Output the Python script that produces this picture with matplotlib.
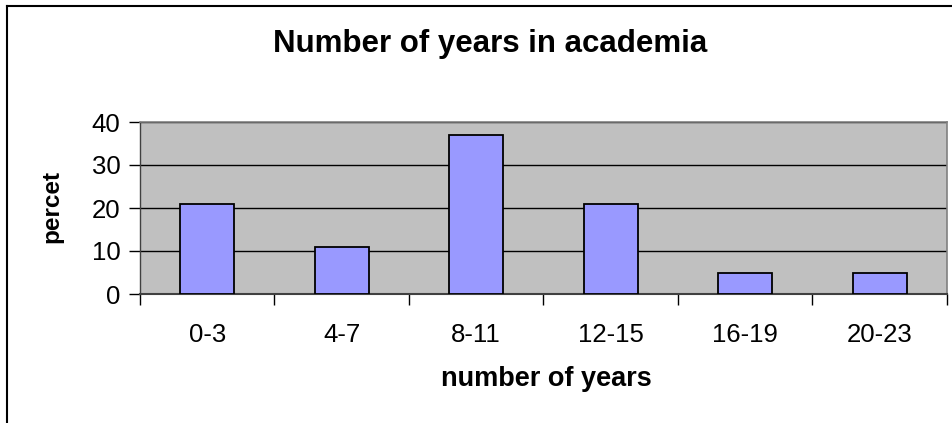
import numpy as np
import matplotlib.pyplot as plt
from matplotlib.lines import Line2D

# share of respondents per band of years spent in academia
groups = ['0-3', '4-7', '8-11', '12-15', '16-19', '20-23']
percent = [21, 11, 37, 21, 5, 5]
y_ticks = [0, 10, 20, 30, 40]

plt.rcParams['font.family'] = ['Liberation Sans', 'DejaVu Sans']

W, H = 953, 423
fig = plt.figure(figsize=(W / 100, H / 100), dpi=100)

def px(x, y):
    return x / W, 1 - y / H

# chart frame (left and top edges)
x0, y0 = px(7, 6)
fig.add_artist(Line2D([x0, x0], [0, y0], color='black', lw=1.5))
fig.add_artist(Line2D([x0, 1], [y0, y0], color='black', lw=1.5))

left, top = px(140, 122)
right, bottom = px(947, 294)
ax = fig.add_axes([left, bottom, right - left, top - bottom])
ax.set_facecolor('#c0c0c0')

x = np.arange(len(groups))
ax.bar(x, percent, width=0.4, color='#9999ff', edgecolor='black', lw=1.3, zorder=3)

ax.set_xlim(-0.5, len(groups) - 0.5)
ax.set_ylim(0, 40)
ax.set_yticks(y_ticks)
ax.yaxis.grid(True, color='black', lw=1)
ax.set_axisbelow(True)

# ticks sit on the category boundaries, labels in the middle
ax.set_xticks(np.arange(-0.5, len(groups)), labels=[])
ax.set_xticks(x, labels=groups, minor=True)
ax.tick_params(axis='x', which='major', length=8, width=1, color='black')
ax.tick_params(axis='x', which='minor', length=0, pad=21, labelsize=18.5)
ax.tick_params(axis='y', length=8, width=1, pad=6, labelsize=18.5)

for side in ('top', 'right'):
    ax.spines[side].set_color('#808080')
    ax.spines[side].set_linewidth(1.2)
ax.spines['bottom'].set_color('#404040')
ax.spines['bottom'].set_linewidth(1.5)
ax.spines['left'].set_color('#404040')
ax.spines['left'].set_linewidth(1)

ax.set_ylabel('percet', fontsize=17.5, fontweight='bold', va='center')
ax.yaxis.set_label_coords(-0.109, 0.51)
ax.set_xlabel('number of years', fontsize=19.5, fontweight='bold', va='top')
ax.xaxis.set_label_coords(0.503, -0.42)

tx, ty = px(490, 52)
fig.text(tx, ty, 'Number of years in academia', fontsize=22.5, fontweight='bold',
         ha='center', va='baseline')

fig.savefig('out.png', dpi=100)
